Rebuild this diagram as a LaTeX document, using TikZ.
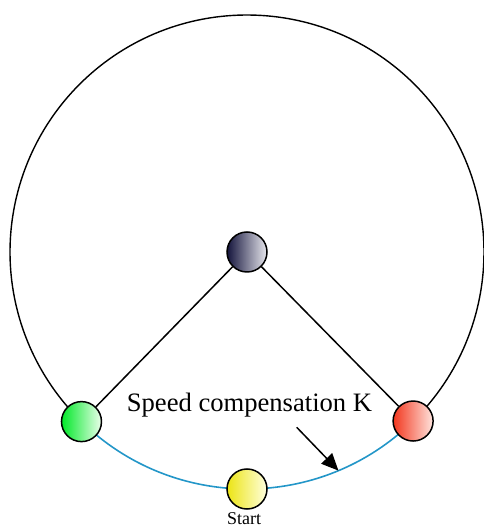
\documentclass[tikz,border=0pt]{standalone}
\usepackage{fontspec}
\setmainfont{Liberation Serif}
\usetikzlibrary{arrows.meta,calc}
\definecolor{arcblue}{RGB}{35,150,200}
\begin{document}
\begin{tikzpicture}[x=1pt,y=1pt,
  ball/.style={circle,draw=black,line width=1.5pt,minimum size=40pt,inner sep=0pt},
  ring/.style={draw=black,line width=1.4pt},
  link/.style={draw=black,line width=1.5pt},
  bluearc/.style={draw=arcblue,line width=1.6pt}]
\useasboundingbox (0,0) rectangle (484,527);
\coordinate (c) at (247,275);
% big circle arcs
\draw[ring] ($(c)+(-45.5:237)$) arc[start angle=-45.5, end angle=225.7, radius=237];
\draw[bluearc] ($(c)+(225.7:237)$) arc[start angle=225.7, end angle=314.5, radius=237];
% balls
\node[ball,left color={rgb,255:red,20;green,20;blue,60},right color={rgb,255:red,232;green,232;blue,238}] (dark) at (c) {};
\node[ball,left color={rgb,255:red,0;green,232;blue,40},right color={rgb,255:red,235;green,255;blue,235}] (green) at ($(c)+(225.7:237)$) {};
\node[ball,left color={rgb,255:red,242;green,55;blue,30},right color={rgb,255:red,255;green,228;blue,222}] (red) at ($(c)+(-45.5:237)$) {};
\node[ball,left color={rgb,255:red,236;green,228;blue,20},right color={rgb,255:red,255;green,255;blue,222}] (yellow) at ($(c)+(-90:237)$) {};
% links
\draw[link] (dark) -- (green);
\draw[link] (dark) -- (red);
% label and arrow
\node[anchor=base,font=\fontsize{26.6}{30}\selectfont,inner sep=0pt] (lbl) at (249.5,115) {Speed compensation K};
\coordinate (arrstart) at (296.7,99.7);
\coordinate (arrtip) at ($(c)+(-67.3:237)$);
\draw[link,-{Triangle[length=17pt,width=15pt]}] (arrstart) -- (arrtip);
\node[anchor=base,font=\fontsize{18}{20}\selectfont,inner sep=0pt] (start) at (244,2.5) {Start};
\end{tikzpicture}
\end{document}
